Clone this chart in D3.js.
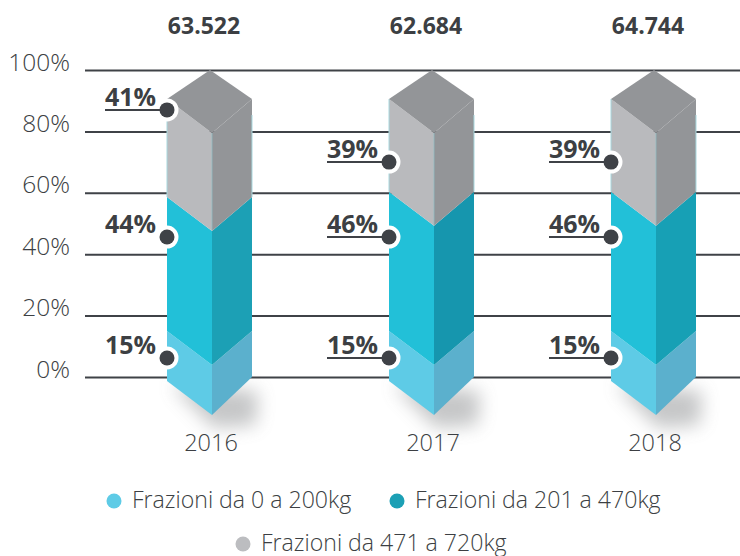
<!DOCTYPE html>
<html>
<head>
<meta charset="utf-8">
<style>
  html, body { margin: 0; padding: 0; background: #fff; }
  svg { display: block; }
  text { font-family: "Open Sans", "Noto Sans", sans-serif; fill: #3c3f43; }
  .axis-label { font-size: 24.5px; font-weight: 300; }
  .year { font-size: 23.5px; font-weight: 300; }
  .total { font-size: 23px; font-weight: 700; }
  .pct { font-size: 25px; font-weight: 700; }
  .legend-label { font-size: 23.1px; font-weight: 300; }
</style>
<script src="https://d3js.org/d3.v7.min.js"></script>
</head>
<body>
<svg id="chart" width="740" height="556"></svg>
<script>
var years = ["2016", "2017", "2018"]
var totals = ["63.522", "62.684", "64.744"]
var seriesNames = ["Frazioni da 0 a 200kg", "Frazioni da 201 a 470kg", "Frazioni da 471 a 720kg"]
var share0to200 = [15, 15, 15]
var share201to470 = [44, 46, 46]
var share471to720 = [41, 39, 39]
// where the callout dots sit, read against the % axis
var dot0to200 = [6.2, 6.2, 6.2]
var dot201to470 = [45.6, 45.6, 45.6]
var dot471to720 = [87, 70, 70]
var underlined0to200 = [false, true, true]
var underlined201to470 = [false, true, true]
var underlined471to720 = [true, true, true]
var yTicks = [0, 20, 40, 60, 80, 100]

var frontColors = ["#5ecbe6", "#22c0d8", "#b9babd"]
var sideColors = ["#5bb0cd", "#1ca0b5", "#939598"]
var midSideByYear = ["#1ca0b5", "#1696ae", "#17a0b5"]
var legendColors = ["#5ecbe6", "#1ca0b5", "#bcbdc0"]
var topColor = "#939598"
var ink = "#3f4247"

var svg = d3.select("#chart")

var y = d3.scaleLinear().domain([0, 100]).range([377, 70])
var x = d3.scalePoint().domain(years).range([212, 656])

// the prism is an illustration, its segments are not strictly to scale
var prismY = d3.scaleLinear().domain([0, 15, 60, 100]).range([415, 365, 228, 133])
var halfLeft = 45, halfRight = 40, rise = 34

var defs = svg.append("defs")
defs.append("filter").attr("id", "soft")
  .attr("x", "-60%").attr("y", "-100%").attr("width", "220%").attr("height", "300%")
  .append("feGaussianBlur").attr("stdDeviation", 9)

// grid
var grid = svg.append("g")
var axis = d3.axisLeft(y).tickValues(yTicks).tickSize(-655).tickPadding(15).tickFormat(d => d + "%")
grid.attr("transform", "translate(85,0)").call(axis)
grid.select(".domain").remove()
grid.selectAll(".tick line").attr("stroke", ink).attr("stroke-width", 2)
grid.selectAll(".tick text").attr("class", "axis-label").attr("fill", null).attr("dy", "0")

// prisms
var line = d3.line()
years.forEach(function(year, i) {
  var cx = x(year)
  var g = svg.append("g")
  var stack = [share0to200[i], share201to470[i], share471to720[i]]
  var left = cx - halfLeft, right = cx + halfRight

  // soft shadow under the tip
  g.append("path")
    .attr("d", line([[left + 4, prismY(0) - 30], [cx + 2, prismY(0) + 13], [right + 4, prismY(0) + 10], [right + 6, prismY(0) - 24]]) + "Z")
    .attr("fill", "#77797c").attr("opacity", 0.42).attr("filter", "url(#soft)")

  var base = 0
  stack.forEach(function(share, k) {
    var lo = prismY(base), hi = prismY(base + share)
    // bottom right corner of the prism sits a little higher than the left one
    var sideLo = k == 0 ? lo - rise - 4 : lo - rise
    g.append("path")
      .attr("d", line([[left, lo - rise], [cx, lo], [cx, hi], [left, hi - rise]]) + "Z")
      .attr("fill", frontColors[k])
    g.append("path")
      .attr("d", line([[cx, lo], [right, sideLo], [right, hi - rise], [cx, hi]]) + "Z")
      .attr("fill", k == 1 ? midSideByYear[i] : sideColors[k])
    if (k == 2) {
      // faint teal hairlines on the grey block
      g.append("path")
        .attr("d", line([[left, lo - rise], [left, hi - rise]]))
        .attr("fill", "none").attr("stroke", "#a9d8df").attr("stroke-width", 1)
      g.append("path")
        .attr("d", line([[cx, lo], [cx, hi]]))
        .attr("fill", "none").attr("stroke", "#8fbcc3").attr("stroke-width", 0.8)
      g.append("path")
        .attr("d", line([[right, lo - rise], [right, hi - rise + 16]]))
        .attr("fill", "none").attr("stroke", "#a9d8df").attr("stroke-width", 1)
    }
    base += share
  })

  var topY = prismY(100)
  g.append("path")
    .attr("d", line([[left, topY - rise], [cx - 2, y(100)], [right, topY - rise], [cx, topY]]) + "Z")
    .attr("fill", topColor)

  g.append("text").attr("class", "total")
    .attr("x", cx - 8).attr("y", 34).attr("text-anchor", "middle").text(totals[i])
  g.append("text").attr("class", "year")
    .attr("x", cx - 1).attr("y", 451).attr("text-anchor", "middle").text(year)

  var dots = [dot0to200[i], dot201to470[i], dot471to720[i]]
  var rules = [underlined0to200[i], underlined201to470[i], underlined471to720[i]]
  dots.forEach(function(level, k) {
    var dy = y(level)
    g.append("circle").attr("cx", left).attr("cy", dy).attr("r", 11.5).attr("fill", "#fff")
    if (rules[k]) {
      g.append("line").attr("x1", left - 62).attr("x2", left).attr("y1", dy).attr("y2", dy)
        .attr("stroke", ink).attr("stroke-width", 2)
    }
    g.append("circle").attr("cx", left).attr("cy", dy).attr("r", 7.5).attr("fill", ink)
    g.append("text").attr("class", "pct")
      .attr("x", left - 11).attr("y", dy - 4).attr("text-anchor", "end").text(stack[k] + "%")
  })
})

// legend
var legendRows = [[0, 114, 501], [1, 397, 501], [2, 243, 544]]
legendRows.forEach(function(row) {
  svg.append("circle").attr("cx", row[1]).attr("cy", row[2]).attr("r", 7.5).attr("fill", legendColors[row[0]])
  svg.append("text").attr("class", "legend-label")
    .attr("x", row[1] + 18).attr("y", row[2] + 6.5).text(seriesNames[row[0]])
})
</script>
</body>
</html>
